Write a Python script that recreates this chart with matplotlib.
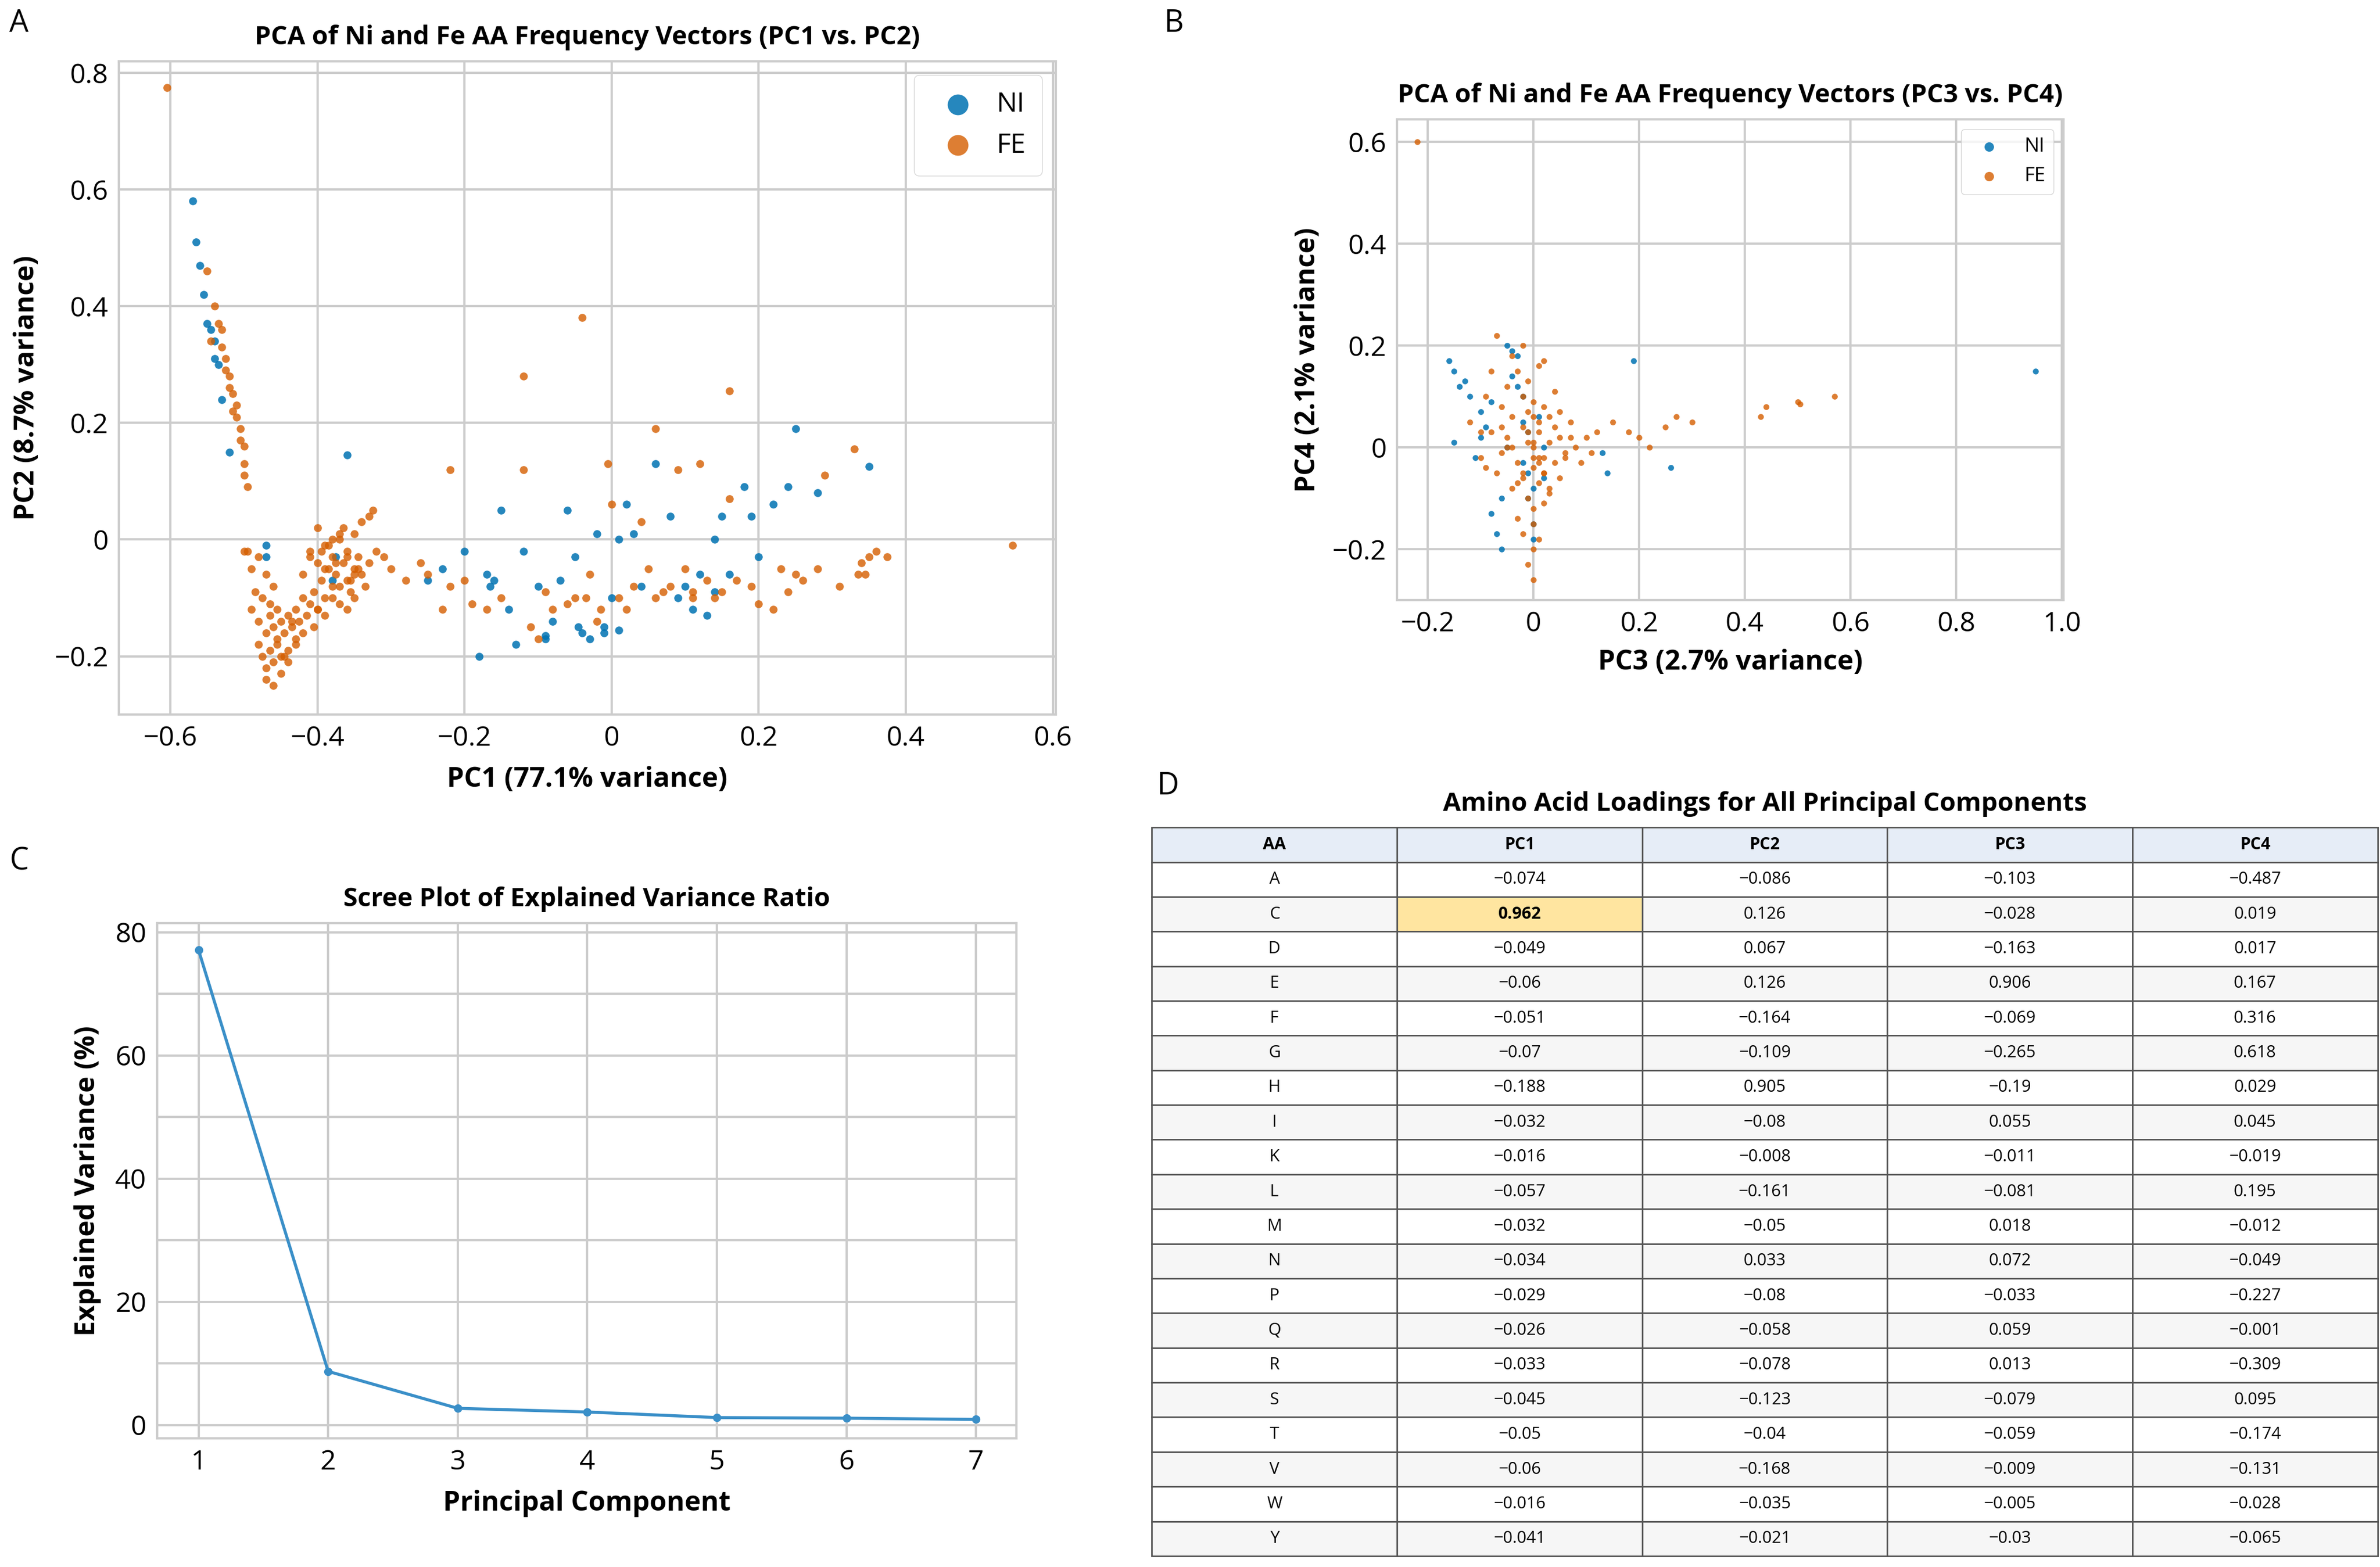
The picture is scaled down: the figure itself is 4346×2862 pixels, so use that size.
import matplotlib.pyplot as plt
import numpy as np

# ---- data ----
ni_pc1 = [-0.57, -0.565, -0.56, -0.555, -0.55, -0.545, -0.54, -0.54, -0.535, -0.53, -0.52, -0.47, -0.47,
          -0.36, -0.375, -0.38, -0.25, -0.23, -0.2, -0.18, -0.17, -0.165, -0.16, -0.14, -0.13, -0.12, -0.1,
          -0.09, -0.08, -0.07, -0.06, -0.05, -0.04, -0.03, -0.02, -0.01, -0.01, 0.01, 0.01, 0.02, 0.03, 0.04,
          0.06, 0.08, 0.09, 0.11, 0.12, 0.13, 0.14, 0.14, 0.15, 0.16, 0.18, 0.19, 0.2, 0.22, 0.24, 0.25, 0.28,
          0.35, 0.0, -0.15, -0.09, 0.1, -0.045]
ni_pc2 = [0.58, 0.51, 0.47, 0.42, 0.37, 0.36, 0.34, 0.31, 0.30, 0.24, 0.15, -0.01, -0.03,
          0.145, -0.03, -0.07, -0.07, -0.05, -0.02, -0.2, -0.06, -0.08, -0.07, -0.12, -0.18, -0.02, -0.08,
          -0.165, -0.14, -0.07, 0.05, -0.03, -0.16, -0.17, 0.01, -0.16, -0.15, 0.0, -0.155, 0.06, 0.01, -0.08,
          0.13, 0.04, -0.1, -0.12, -0.06, -0.13, -0.09, 0.0, 0.04, -0.06, 0.09, 0.04, -0.03, 0.06, 0.09, 0.19, 0.08,
          0.125, -0.1, 0.05, -0.17, -0.08, -0.15]

fe_pc1 = [-0.605, -0.55, -0.54, -0.535, -0.53, -0.53, -0.525, -0.52, -0.52, -0.515, -0.51, -0.51, -0.505,
          -0.5, -0.5, -0.5, -0.495, -0.545, -0.525, -0.515, -0.505, -0.495,
          # lower-left cluster
          -0.49, -0.485, -0.48, -0.48, -0.475, -0.47, -0.47, -0.465, -0.465, -0.46, -0.46, -0.455, -0.455,
          -0.45, -0.45, -0.445, -0.44, -0.44, -0.435, -0.43, -0.43, -0.425, -0.42, -0.42, -0.415, -0.41,
          -0.405, -0.4, -0.47, -0.46, -0.45, -0.44, -0.43, -0.475, -0.465, -0.455, -0.445, -0.435, -0.48,
          -0.47, -0.46, -0.5, -0.49,
          # middle-left cluster
          -0.42, -0.41, -0.405, -0.4, -0.395, -0.39, -0.39, -0.385, -0.38, -0.38, -0.375, -0.37, -0.37,
          -0.365, -0.36, -0.36, -0.355, -0.35, -0.35, -0.345, -0.34, -0.34, -0.335, -0.33, -0.325, -0.32,
          -0.4, -0.39, -0.38, -0.37, -0.36, -0.35, -0.41, -0.395, -0.385, -0.375, -0.365, -0.355, -0.345,
          -0.33, -0.38, -0.36, -0.4, -0.37, -0.35, -0.39,
          # right tail
          -0.31, -0.3, -0.28, -0.26, -0.25, -0.23, -0.22, -0.22, -0.2, -0.19, -0.17, -0.15, -0.12, -0.12,
          -0.11, -0.1, -0.09, -0.08, -0.06, -0.05, -0.04, -0.03, -0.02, -0.005, 0.0, 0.01, 0.02, 0.03, 0.04,
          0.05, 0.06, 0.07, 0.08, 0.09, 0.1, 0.11, 0.12, 0.13, 0.14, 0.15, 0.16, 0.16, 0.17, 0.19, 0.2, 0.22,
          0.23, 0.24, 0.25, 0.26, 0.28, 0.29, 0.31, 0.33, 0.335, 0.34, 0.345, 0.35, 0.36, 0.375, 0.545,
          -0.035, -0.015, 0.06, 0.11]
fe_pc2 = [0.775, 0.46, 0.40, 0.37, 0.36, 0.33, 0.31, 0.28, 0.26, 0.25, 0.23, 0.21, 0.19,
          0.16, 0.13, 0.11, 0.09, 0.34, 0.29, 0.22, 0.17, -0.02,
          -0.12, -0.09, -0.14, -0.18, -0.2, -0.16, -0.22, -0.13, -0.19, -0.15, -0.21, -0.12, -0.17,
          -0.14, -0.2, -0.16, -0.13, -0.19, -0.15, -0.12, -0.18, -0.14, -0.1, -0.16, -0.13, -0.11,
          -0.15, -0.12, -0.24, -0.25, -0.23, -0.21, -0.17, -0.1, -0.11, -0.18, -0.2, -0.14, -0.03,
          -0.06, -0.08, -0.02, -0.05,
          -0.06, -0.02, -0.09, -0.04, -0.07, -0.01, -0.1, -0.05, -0.08, -0.03, -0.06, -0.11, 0.0,
          -0.04, -0.07, -0.02, -0.09, -0.05, 0.01, -0.03, -0.06, 0.03, -0.08, -0.04, 0.05, -0.02,
          -0.12, -0.13, -0.1, -0.08, -0.12, -0.1, -0.03, -0.02, -0.01, -0.04, 0.02, -0.07, -0.05,
          0.04, 0.0, -0.03, 0.02, 0.01, -0.06, -0.05,
          -0.03, -0.05, -0.07, -0.04, -0.06, -0.12, 0.12, -0.08, -0.07, -0.11, -0.12, -0.1, 0.28, 0.12,
          -0.15, -0.17, -0.09, -0.12, -0.11, -0.1, 0.38, -0.06, -0.14, 0.13, 0.06, -0.1, -0.12, -0.08, 0.03,
          -0.05, 0.19, -0.09, -0.08, 0.12, -0.05, -0.1, 0.13, -0.07, -0.1, -0.09, 0.255, 0.07, -0.07, -0.08,
          -0.11, -0.12,
          -0.05, -0.09, -0.06, -0.07, -0.05, 0.11, -0.08, 0.155, -0.06, -0.04, -0.06, -0.03, -0.02, -0.03, -0.01,
          -0.1, -0.12, -0.1, -0.09]

ni_pc3 = [-0.16, -0.15, -0.13, -0.12, -0.1, -0.09, -0.08, -0.07, -0.06, -0.05, -0.04, -0.03, -0.02, -0.02,
          -0.01, -0.01, 0.0, 0.0, 0.01, 0.02, -0.15, -0.11, -0.08, -0.03, -0.01, 0.0, -0.05, -0.02, -0.04,
          0.19, 0.26, 0.14, 0.13, 0.95, -0.14, -0.06, 0.02, -0.1]
ni_pc4 = [0.17, 0.15, 0.13, 0.1, 0.07, 0.04, -0.13, -0.17, -0.2, 0.2, 0.19, 0.18, 0.1, 0.05,
          -0.05, -0.1, -0.15, -0.18, 0.06, 0.0, 0.01, -0.02, 0.09, 0.12, 0.03, -0.08, 0.0, -0.03, 0.14,
          0.17, -0.04, -0.05, -0.01, 0.15, 0.12, -0.1, -0.06, 0.02]

fe_pc3 = [-0.22, -0.12, -0.1, -0.09, -0.08, -0.07, -0.06, -0.06, -0.05, -0.05, -0.04, -0.04, -0.03, -0.03,
          -0.02, -0.02, -0.02, -0.01, -0.01, -0.01, 0.0, 0.0, 0.0, 0.0, 0.01, 0.01, 0.01, 0.02, 0.02, 0.02,
          0.03, 0.03, 0.03, 0.04, 0.04, 0.05, 0.05, 0.06, 0.07, 0.08, 0.09, 0.1, -0.03, -0.01, 0.0, 0.02,
          -0.04, 0.01, 0.03, -0.02, 0.0, 0.04, -0.05, 0.02, -0.01, 0.01, 0.0, -0.03, 0.05, -0.06, 0.06,
          0.0, -0.01, -0.02, 0.01, 0.02, -0.07, 0.07, -0.08, 0.11, 0.12, 0.15, 0.18, 0.2, 0.22, 0.25, 0.27,
          0.3, 0.43, 0.44, 0.5, 0.505, 0.57, -0.02, 0.0, -0.1, -0.09, -0.04, 0.0, 0.01]
fe_pc4 = [0.6, 0.05, -0.02, 0.1, 0.03, -0.05, 0.08, -0.01, 0.12, 0.02, -0.08, 0.06, 0.15, -0.03,
          0.04, -0.06, 0.1, 0.01, -0.1, 0.07, 0.0, -0.04, 0.09, -0.12, 0.03, -0.07, 0.05, -0.02, 0.08, -0.05,
          0.01, -0.09, 0.06, -0.03, 0.04, -0.06, 0.02, -0.01, 0.05, 0.0, -0.03, 0.02, -0.14, 0.13, -0.15, -0.11,
          0.18, 0.16, -0.08, -0.17, -0.2, 0.11, 0.0, -0.05, 0.03, -0.02, 0.06, -0.07, 0.07, 0.04, -0.02,
          -0.26, -0.23, 0.2, -0.18, 0.17, 0.22, 0.02, 0.15, -0.01, 0.03, 0.05, 0.03, 0.02, 0.0, 0.04, 0.06,
          0.05, 0.06, 0.08, 0.09, 0.085, 0.1, -0.05, -0.02, 0.03, -0.04, 0.0, 0.01, -0.03]

components = [1, 2, 3, 4, 5, 6, 7]
explained = [77.1, 8.7, 2.7, 2.1, 1.2, 1.1, 0.9]

aa = ['A', 'C', 'D', 'E', 'F', 'G', 'H', 'I', 'K', 'L', 'M', 'N', 'P', 'Q', 'R', 'S', 'T', 'V', 'W', 'Y']
pc1 = ['-0.074', '0.962', '-0.049', '-0.06', '-0.051', '-0.07', '-0.188', '-0.032', '-0.016', '-0.057',
       '-0.032', '-0.034', '-0.029', '-0.026', '-0.033', '-0.045', '-0.05', '-0.06', '-0.016', '-0.041']
pc2 = ['-0.086', '0.126', '0.067', '0.126', '-0.164', '-0.109', '0.905', '-0.08', '-0.008', '-0.161',
       '-0.05', '0.033', '-0.08', '-0.058', '-0.078', '-0.123', '-0.04', '-0.168', '-0.035', '-0.021']
pc3 = ['-0.103', '-0.028', '-0.163', '0.906', '-0.069', '-0.265', '-0.19', '0.055', '-0.011', '-0.081',
       '0.018', '0.072', '-0.033', '0.059', '0.013', '-0.079', '-0.059', '-0.009', '-0.005', '-0.03']
pc4 = ['-0.487', '0.019', '0.017', '0.167', '0.316', '0.618', '0.029', '0.045', '-0.019', '0.195',
       '-0.012', '-0.049', '-0.227', '-0.001', '-0.309', '0.095', '-0.174', '-0.131', '-0.028', '-0.065']

BLUE = '#0072B2'
ORANGE = '#D55E00'
GRID = '#cccccc'

plt.rcParams['font.family'] = ['Open Sans', 'DejaVu Sans']
fig = plt.figure(figsize=(43.46, 28.62), dpi=100)


def style(ax, fs=36):
    ax.grid(True, color=GRID, linewidth=3)
    ax.set_axisbelow(True)
    for s in ax.spines.values():
        s.set_color(GRID)
        s.set_linewidth(3)
    ax.tick_params(labelsize=fs, length=0, pad=14)


def fmt(v, p):
    return '0' if abs(v) < 1e-9 else ('%g' % v).replace('-', '\u2212')


# A
axA = fig.add_axes([0.050, 0.544, 0.3936, 0.417])
axA.scatter(ni_pc1, ni_pc2, s=110, c=BLUE, alpha=0.85, linewidths=0, label='NI', zorder=3)
axA.scatter(fe_pc1, fe_pc2, s=110, c=ORANGE, alpha=0.8, linewidths=0, label='FE', zorder=3)
axA.set_xlim(-0.67, 0.604)
axA.set_ylim(-0.30, 0.82)
axA.set_xticks([-0.6, -0.4, -0.2, 0, 0.2, 0.4, 0.6])
axA.set_yticks([-0.2, 0, 0.2, 0.4, 0.6, 0.8])
axA.xaxis.set_major_formatter(plt.FuncFormatter(fmt))
axA.yaxis.set_major_formatter(plt.FuncFormatter(fmt))
style(axA)
axA.set_title('PCA of Ni and Fe AA Frequency Vectors (PC1 vs. PC2)', fontsize=34, fontweight='bold', pad=22)
axA.set_xlabel('PC1 (77.1% variance)', fontsize=36, fontweight='bold', labelpad=18)
axA.set_ylabel('PC2 (8.7% variance)', fontsize=36, fontweight='bold', labelpad=18)
axA.legend(loc='upper right', fontsize=36, markerscale=2.6, frameon=True, edgecolor=GRID,
           borderpad=0.6, handletextpad=0.4)

# B
axB = fig.add_axes([0.587, 0.617, 0.280, 0.307])
axB.scatter(ni_pc3, ni_pc4, s=60, c=BLUE, alpha=0.85, linewidths=0, label='NI', zorder=3)
axB.scatter(fe_pc3, fe_pc4, s=60, c=ORANGE, alpha=0.8, linewidths=0, label='FE', zorder=3)
axB.set_xlim(-0.258, 1.003)
axB.set_ylim(-0.30, 0.645)
axB.set_xticks([-0.2, 0, 0.2, 0.4, 0.6, 0.8, 1.0])
axB.set_yticks([-0.2, 0, 0.2, 0.4, 0.6])
axB.xaxis.set_major_formatter(plt.FuncFormatter(lambda v, p: fmt(v, p) if abs(v - 1) > 1e-9 else '1.0'))
axB.yaxis.set_major_formatter(plt.FuncFormatter(fmt))
style(axB)
axB.set_title('PCA of Ni and Fe AA Frequency Vectors (PC3 vs. PC4)', fontsize=34, fontweight='bold', pad=22)
axB.set_xlabel('PC3 (2.7% variance)', fontsize=36, fontweight='bold', labelpad=14)
axB.set_ylabel('PC4 (2.1% variance)', fontsize=36, fontweight='bold', labelpad=14)
axB.legend(loc='upper right', fontsize=26, markerscale=1.6, frameon=True, edgecolor=GRID)

# C
axC = fig.add_axes([0.066, 0.082, 0.361, 0.329])
axC.plot(components, explained, color='#3a8fc8', linewidth=4, marker='o', markersize=10, zorder=3)
axC.set_xlim(0.68, 7.31)
axC.set_ylim(-2.2, 81.5)
axC.set_xticks(components)
axC.set_yticks([0, 20, 40, 60, 80])
axC.set_yticks([10, 30, 50, 70], minor=True)
style(axC)
axC.grid(True, which='minor', color=GRID, linewidth=3)
axC.tick_params(which='minor', length=0)
axC.set_title('Scree Plot of Explained Variance Ratio', fontsize=34, fontweight='bold', pad=22)
axC.set_xlabel('Principal Component', fontsize=36, fontweight='bold', labelpad=18)
axC.set_ylabel('Explained Variance (%)', fontsize=36, fontweight='bold', labelpad=18)

# D
axD = fig.add_axes([0.484, 0.007, 0.515, 0.465])
axD.axis('off')
axD.set_title('Amino Acid Loadings for All Principal Components', fontsize=34, fontweight='bold', pad=22)
cells = [[a, b.replace('-', '\u2212'), c.replace('-', '\u2212'), d.replace('-', '\u2212'), e.replace('-', '\u2212')]
         for a, b, c, d, e in zip(aa, pc1, pc2, pc3, pc4)]
tbl = axD.table(cellText=cells, colLabels=['AA', 'PC1', 'PC2', 'PC3', 'PC4'],
                cellLoc='center', bbox=[0, 0, 1, 1])
tbl.auto_set_font_size(False)
tbl.set_fontsize(22)
for (r, c), cell in tbl.get_celld().items():
    cell.set_edgecolor('#555555')
    cell.set_linewidth(2)
    if r == 0:
        cell.set_facecolor('#e6edf7')
        cell.get_text().set_fontweight('bold')
    elif r % 2 == 0:
        cell.set_facecolor('#f6f6f6')
    else:
        cell.set_facecolor('white')
    if r > 0 and cells[r - 1][c] == '0.962':
        cell.set_facecolor('#ffe5a0')
        cell.get_text().set_fontweight('bold')

# panel letters
for lab, x, y in [('A', 0.004, 0.975), ('B', 0.489, 0.975), ('C', 0.004, 0.44), ('D', 0.486, 0.488)]:
    fig.text(x, y, lab, fontsize=40, va='bottom')

fig.savefig('out.png', dpi=100)
